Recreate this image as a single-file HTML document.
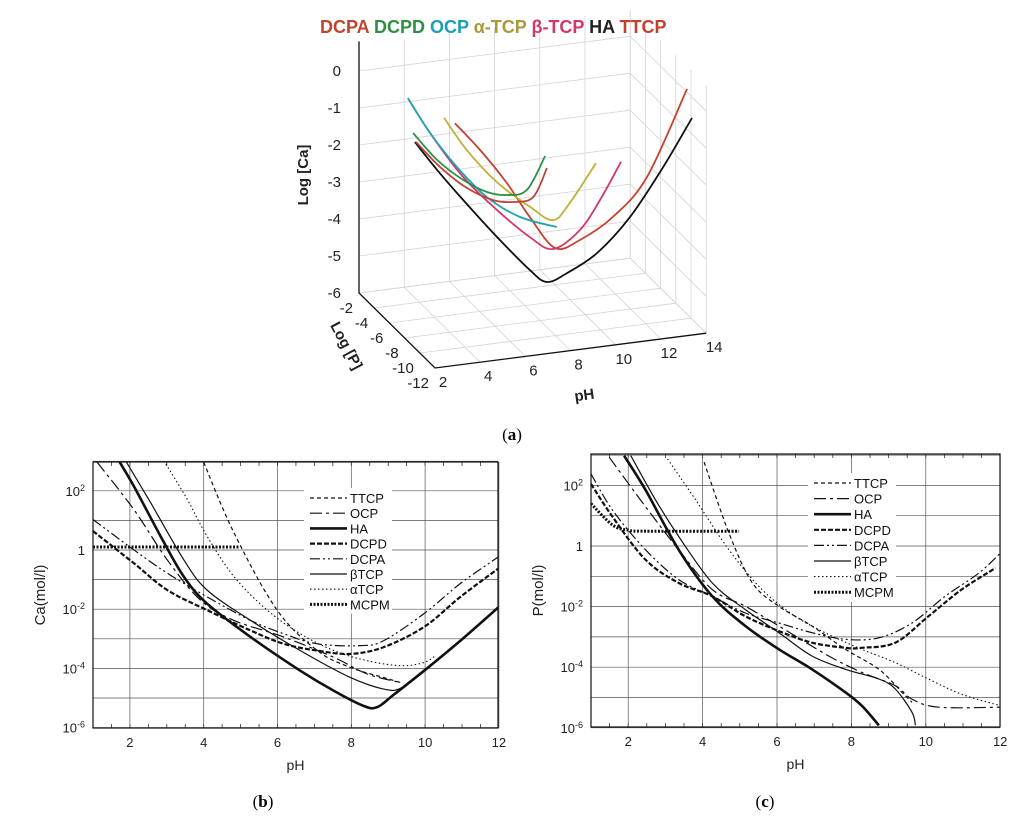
<!DOCTYPE html>
<html><head><meta charset="utf-8"><style>
html,body{margin:0;padding:0;background:#fff;}
svg{display:block;font-family:"Liberation Sans",sans-serif;}
</style></head><body>
<svg id="fig" width="1024" height="817" viewBox="0 0 1024 817" xmlns="http://www.w3.org/2000/svg">
<defs>
<clipPath id="clipB"><rect x="93" y="462" width="405" height="266"/></clipPath>
<clipPath id="clipC"><rect x="591" y="454" width="409" height="273"/></clipPath>
</defs>
<g id="panelA"></g>
<g id="panelB"></g>
<g id="panelC"></g>
<text x="512" y="440" text-anchor="middle" font-family="Liberation Serif" font-size="17">(<tspan font-weight="bold">a</tspan>)</text>
<text x="263" y="807" text-anchor="middle" font-family="Liberation Serif" font-size="17">(<tspan font-weight="bold">b</tspan>)</text>
<text x="765" y="807" text-anchor="middle" font-family="Liberation Serif" font-size="17">(<tspan font-weight="bold">c</tspan>)</text>
</svg>
<script>
// ---------- Panel A data (pH, log[Ca]) at fixed log[P] ----------
const a3Names = ["HA","TTCP","β-TCP","α-TCP","OCP","DCPD","DCPA"];
const a3Colors = ["#111111","#c8402e","#d2386a","#c0b03a","#1ea3b3","#2f8f45","#b8463e"];
const a3LogP = [-9,-9,-9,-9,-9,-9,-9];
const a3PH_HA = [2.12,3.10,4.25,5.75,7.21,7.96,8.85,10.18,11.64,13.10,14.38];
const a3Ca_HA = [-0.51,-1.34,-2.24,-3.36,-4.37,-4.75,-4.58,-4.14,-3.28,-2.05,-0.82];
const a3PH_TTCP = [3.89,5.00,6.19,7.21,8.32,9.42,10.88,12.39,14.16];
const a3Ca_TTCP = [-0.14,-0.95,-1.94,-2.94,-3.86,-3.73,-3.22,-2.26,-0.02];
const a3PH_bTCP = [1.81,2.79,4.25,5.75,7.21,8.23,9.42,10.31,11.24];
const a3Ca_bTCP = [0.70,-0.32,-1.62,-2.63,-3.48,-3.88,-3.46,-2.72,-1.76];
const a3PH_aTCP = [3.41,4.42,5.75,7.21,8.23,8.98,10.13];
const a3Ca_aTCP = [0.04,-0.91,-1.88,-2.66,-3.10,-2.69,-1.71];
const a3PH_OCP = [1.81,2.79,3.98,5.31,6.77,8.40];
const a3Ca_OCP = [0.70,-0.32,-1.33,-2.25,-2.90,-3.30];
const a3PH_DCPD = [2.04,3.10,4.25,5.31,6.19,7.08,7.88];
const a3Ca_DCPD = [-0.26,-1.07,-1.70,-2.11,-2.26,-2.19,-1.34];
const a3PH_DCPA = [2.17,3.23,4.42,5.58,6.46,7.35,7.96];
const a3Ca_DCPA = [-0.51,-1.27,-1.93,-2.35,-2.47,-2.41,-1.67];
const a3PHTicks = [2,4,6,8,10,12,14];
const a3CaTicks = [0,-1,-2,-3,-4,-5,-6];
const a3PTicks = [-2,-4,-6,-8,-10,-12];

// ---------- Panel B data (pH, log10 Ca) ----------
const bNames = ["TTCP","OCP","HA","DCPD","DCPA","βTCP","αTCP","MCPM"];
const bPH_TTCP=[4.0,4.82,5.99,7.08,7.98,8.88,9.34];
const bC_TTCP=[2.97,0.58,-2.03,-3.40,-3.97,-4.31,-4.48];
const bPH_OCP=[1.11,2.10,3.01,3.91,4.82,6.17,7.53,8.43,9.34];
const bC_OCP=[2.97,1.38,-0.33,-1.69,-2.38,-2.94,-3.63,-4.19,-4.48];
const bPH_HA=[1.70,2.10,2.83,3.46,4.09,5.27,6.62,7.53,8.34,8.70,9.16,9.97,10.96,12.0];
const bC_HA=[3.02,2.17,0.47,-0.90,-1.81,-2.94,-4.08,-4.76,-5.27,-5.31,-4.88,-4.08,-3.06,-1.92];
const bPH_DCPD=[1.0,2.10,3.01,4.09,5.27,6.17,7.08,7.98,8.88,9.97,10.96,12.0];
const bC_DCPD=[0.64,-0.44,-1.35,-2.03,-2.72,-3.17,-3.40,-3.51,-3.28,-2.60,-1.58,-0.61];
const bPH_DCPA=[1.0,2.10,3.01,4.09,5.27,6.17,7.08,8.25,8.88,9.97,10.96,12.0];
const bC_DCPA=[1.03,0.01,-0.78,-1.58,-2.38,-2.83,-3.17,-3.23,-3.06,-2.15,-1.13,-0.22];
const bPH_bTCP=[1.88,2.56,3.46,4.09,5.27,6.62,7.98,8.88,9.34,9.97];
const bC_bTCP=[3.02,1.60,-0.33,-1.35,-2.38,-3.40,-4.31,-4.70,-4.67,-4.08];
const bPH_aTCP=[2.92,3.55,4.09,4.82,5.72,6.62,7.53,8.43,9.34,9.97,10.3];
const bC_aTCP=[3.02,1.72,0.47,-0.90,-2.03,-2.83,-3.40,-3.74,-3.91,-3.80,-3.55];
const bPH_MCPM=[1.0,4.98];
const bC_MCPM=[0.1,0.1];

// ---------- Panel C data (pH, log10 P) ----------
const cPH_TTCP=[4.04,4.71,5.34,6.05,6.94,7.84,8.74,9.36,9.63];
const cC_TTCP=[2.77,0.42,-1.22,-1.99,-2.64,-3.41,-4.07,-4.83,-5.16];
const cPH_OCP=[1.49,2.47,3.36,4.26,5.15,6.05,7.39,8.28,9.18,9.62,10.34,12.0];
const cC_OCP=[2.93,1.29,-0.13,-1.44,-1.99,-2.64,-3.63,-4.17,-4.61,-5.05,-5.32,-5.32];
const cPH_HA=[1.89,2.47,3.36,4.26,5.15,6.05,6.94,7.84,8.28,8.74];
const cC_HA=[2.98,1.84,-0.13,-1.66,-2.64,-3.41,-4.07,-4.83,-5.27,-5.92];
const cPH_DCPD=[1.0,1.58,2.47,3.36,4.26,5.15,6.05,6.94,7.84,8.28,9.18,10.07,10.96,11.87];
const cC_DCPD=[2.05,0.96,-0.46,-1.22,-1.66,-2.32,-2.81,-3.19,-3.36,-3.36,-3.19,-2.32,-1.44,-0.73];
const cPH_DCPA=[1.0,1.58,2.47,3.36,4.26,5.15,6.05,6.94,7.84,8.74,9.63,10.52,11.42,12.0];
const cC_DCPA=[2.38,1.18,-0.13,-1.11,-1.66,-2.21,-2.54,-2.86,-3.08,-3.03,-2.54,-1.66,-0.90,-0.24];
const cPH_bTCP=[2.07,2.74,3.36,4.26,5.15,6.05,6.94,7.84,8.74,9.18,9.63,9.72];
const cC_bTCP=[2.98,1.51,0.31,-1.22,-2.10,-2.86,-3.63,-4.07,-4.39,-4.72,-5.49,-5.92];
const cPH_aTCP=[3.06,3.82,4.71,5.60,6.49,7.39,8.28,9.18,10.07,10.96,12.0];
const cC_aTCP=[2.87,1.51,-0.13,-1.44,-2.32,-2.92,-3.41,-3.85,-4.39,-4.89,-5.27];
const cPH_MCPM=[1.0,1.58,2.02,2.47,4.98];
const cC_MCPM=[1.40,0.69,0.52,0.49,0.49];

const yTickExp=[2,0,-2,-4,-6];
const xTickPH=[2,4,6,8,10,12];

const NS="http://www.w3.org/2000/svg";
function mk(tag,attrs,parent){const e=document.createElementNS(NS,tag);for(const k in attrs)e.setAttribute(k,attrs[k]);parent.appendChild(e);return e;}
function smooth(pts){
  if(pts.length<3){return "M"+pts.map(p=>p[0].toFixed(1)+","+p[1].toFixed(1)).join(" L");}
  let d="M"+pts[0][0].toFixed(1)+","+pts[0][1].toFixed(1);
  for(let i=0;i<pts.length-1;i++){
    const p0=pts[i-1]||pts[i],p1=pts[i],p2=pts[i+1],p3=pts[i+2]||p2;
    const c1=[p1[0]+(p2[0]-p0[0])/6,p1[1]+(p2[1]-p0[1])/6];
    const c2=[p2[0]-(p3[0]-p1[0])/6,p2[1]-(p3[1]-p1[1])/6];
    d+=" C"+c1[0].toFixed(1)+","+c1[1].toFixed(1)+" "+c2[0].toFixed(1)+","+c2[1].toFixed(1)+" "+p2[0].toFixed(1)+","+p2[1].toFixed(1);
  }
  return d;
}

// ---------- Panel A ----------
(function(){
  const g=document.getElementById("panelA");
  function P(pH,logP,ca){return [359+(pH-2)*22.6+(-2-logP)*7.6, 293-(ca+6)*37-(pH-2)*2.9+(-2-logP)*7.5];}
  const gs={stroke:"#d4d4d4","stroke-width":0.8,fill:"none"};
  for(const ph of a3PHTicks){const a=P(ph,-2,-6),b=P(ph,-2,0.7);
    const l=mk("line",Object.assign({x1:a[0],y1:a[1],x2:b[0],y2:b[1]},gs),g);
    
    }
  for(const ca of a3CaTicks){const a=P(2,-2,ca),b=P(14,-2,ca),c=P(14,-12,ca);
    const l=mk("polyline",Object.assign({points:a.join(",")+" "+b.join(",")+" "+c.join(",")},gs),g);
    
    }
  for(const lp of a3PTicks){const a=P(14,lp,-6),b=P(14,lp,0.7);
    const l=mk("line",Object.assign({x1:a[0],y1:a[1],x2:b[0],y2:b[1]},gs),g);
    
    }
  for(const lp of a3PTicks){const a=P(2,lp,-6),b=P(14,lp,-6);
    const l=mk("line",Object.assign({x1:a[0],y1:a[1],x2:b[0],y2:b[1]},gs),g);
    
    }
  for(const ph of a3PHTicks){const a=P(ph,-2,-6),b=P(ph,-12,-6);
    const l=mk("line",Object.assign({x1:a[0],y1:a[1],x2:b[0],y2:b[1]},gs),g);
    
    }
  const o=P(2,-2,-6),top=P(2,-2,0.8),f=P(2,-12,-6),e=P(14,-12,-6);
  const ax=mk("polyline",{points:top.join(",")+" "+o.join(",")+" "+f.join(",")+" "+e.join(","),stroke:"#111","stroke-width":1.3,fill:"none"},g);
  
  
  a3CaTicks.forEach(ca=>{const p=P(2,-2,ca);const t=mk("text",{x:p[0]-18,y:p[1]+5,"text-anchor":"end","font-size":15,fill:"#222"},g);t.textContent=ca;
    
    });
  a3PTicks.forEach(lp=>{const p=P(2,lp,-6);const t=mk("text",{x:p[0]-6,y:p[1]+20,"text-anchor":"end","font-size":15,fill:"#222"},g);t.textContent=lp;
    
    });
  a3PHTicks.forEach(ph=>{const p=P(ph,-12,-6);const t=mk("text",{x:p[0]+8,y:p[1]+19,"text-anchor":"middle","font-size":15,fill:"#222"},g);t.textContent=ph;
    
    });
  let t=mk("text",{x:0,y:0,"font-size":15,"font-weight":"bold",fill:"#222","text-anchor":"middle",transform:"translate(308,175) rotate(-90)"},g);t.textContent="Log [Ca]";
  
  
  t=mk("text",{x:0,y:0,"font-size":15,"font-weight":"bold",fill:"#222","text-anchor":"middle",transform:"translate(342,348) rotate(62)"},g);t.textContent="Log [P]";
  
  
  t=mk("text",{x:0,y:0,"font-size":15,"font-weight":"bold",fill:"#222","text-anchor":"middle",transform:"translate(585,400) rotate(-8)"},g);t.textContent="pH";
  
  
  const sets=[[a3PH_HA,a3Ca_HA],[a3PH_TTCP,a3Ca_TTCP],[a3PH_bTCP,a3Ca_bTCP],[a3PH_aTCP,a3Ca_aTCP],[a3PH_OCP,a3Ca_OCP],[a3PH_DCPD,a3Ca_DCPD],[a3PH_DCPA,a3Ca_DCPA]];
  sets.forEach((s,i)=>{const pts=s[0].map((ph,j)=>P(ph,a3LogP[i],s[1][j]));
    const c=mk("path",{d:smooth(pts),stroke:a3Colors[i],"stroke-width":1.8,fill:"none"},g);
    
    });
  const leg=mk("text",{x:320,y:33,"font-size":18,"font-weight":"bold"},g);
  
  
  const legItems=[["DCPA","#c0432f"],["DCPD","#2f8f45"],["OCP","#1a9fb0"],["α-TCP","#a89a3a"],["β-TCP","#d2386a"],["HA","#222"],["TTCP","#c0432f"]];
  legItems.forEach((it,i)=>{const s=mk("tspan",{fill:it[1]},leg);s.textContent=(i?" ":"")+it[0];});
})();

// ---------- 2D log panels ----------
function logPanel(gid,clip,X0,Y0,pxPH,pxDec,left,right,top,bottom,ylab,series,legX,legY0,legStep,prefix){
  const g=document.getElementById(gid);
  const xs=ph=>X0+(ph-1)*pxPH, ys=v=>Y0-v*pxDec;
  for(let e=-6;e<=3;e++){const y=ys(e);
    const l=mk("line",{x1:left,x2:right,y1:y,y2:y,stroke:"#555","stroke-width":0.7},g);
    
    }
  xTickPH.forEach(ph=>{const x=xs(ph);
    const l=mk("line",{x1:x,x2:x,y1:top,y2:bottom,stroke:"#555","stroke-width":0.7},g);
    
    });
  for(let ph=1.5;ph<12;ph+=0.5){const x=xs(ph);
    mk("line",{x1:x,x2:x,y1:bottom,y2:bottom-4,stroke:"#333","stroke-width":0.8},g);
    mk("line",{x1:x,x2:x,y1:top,y2:top+4,stroke:"#333","stroke-width":0.8},g);}
  const lb=mk("rect",{x:legX-6,y:legY0-10,width:88,height:legStep*8+4,fill:"#fff"},g);
  
  
  const cg=mk("g",{"clip-path":"url(#"+clip+")"},g);
  series.forEach(s=>{const pts=s.ph.map((ph,i)=>[xs(ph),ys(s.v[i])]);
    const attrs={d:smooth(pts),stroke:"#111","stroke-width":s.w,fill:"none"};
    if(s.dash)attrs["stroke-dasharray"]=s.dash;
    const p=mk("path",attrs,cg);
    
    });
  const fr=mk("rect",{x:left,y:top,width:right-left,height:bottom-top,fill:"none",stroke:"#111","stroke-width":1.2},g);
  
  
  series.forEach((s,i)=>{const y=legY0+i*legStep;
    const attrs={x1:legX,x2:legX+37,y1:y,y2:y,stroke:"#111","stroke-width":s.w};
    if(s.dash)attrs["stroke-dasharray"]=s.dash;
    const l=mk("line",attrs,g);
    
    
    const t=mk("text",{x:legX+40,y:y+5,"font-size":13,fill:"#111"},g);t.textContent=s.name;
    
    });
  xTickPH.forEach(ph=>{const t=mk("text",{x:xs(ph),y:bottom+19,"text-anchor":"middle","font-size":13,fill:"#222"},g);t.textContent=ph;
    
    });
  yTickExp.forEach(e=>{const t=mk("text",{x:left-8,y:ys(e)+5,"text-anchor":"end","font-size":13,fill:"#222"},g);
    if(e===0){t.textContent="1";}else{t.textContent="10";const s=mk("tspan",{dy:-5,"font-size":9},t);s.textContent=String(e);}
    
    });
  let t=mk("text",{x:(left+right)/2,y:bottom+42,"text-anchor":"middle","font-size":14,fill:"#222"},g);t.textContent="pH";
  
  
  t=mk("text",{x:0,y:0,"text-anchor":"middle","font-size":15,fill:"#222",transform:"translate("+(left-48)+","+((top+bottom)/2)+") rotate(-90)"},g);t.textContent=ylab;
  
  
}
const styles={TTCP:{w:1.2,dash:"4,3"},OCP:{w:1.2,dash:"12,4,3,4"},HA:{w:2.6},DCPD:{w:2.2,dash:"5,2"},DCPA:{w:1.2,dash:"10,3,2,3,2,3"},βTCP:{w:1.2},αTCP:{w:1.1,dash:"1.5,2.5"},MCPM:{w:3,dash:"2,1.5"}};
const bSets=[[bPH_TTCP,bC_TTCP],[bPH_OCP,bC_OCP],[bPH_HA,bC_HA],[bPH_DCPD,bC_DCPD],[bPH_DCPA,bC_DCPA],[bPH_bTCP,bC_bTCP],[bPH_aTCP,bC_aTCP],[bPH_MCPM,bC_MCPM]];
const cSets=[[cPH_TTCP,cC_TTCP],[cPH_OCP,cC_OCP],[cPH_HA,cC_HA],[cPH_DCPD,cC_DCPD],[cPH_DCPA,cC_DCPA],[cPH_bTCP,cC_bTCP],[cPH_aTCP,cC_aTCP],[cPH_MCPM,cC_MCPM]];
const bSeries=bNames.map((n,i)=>Object.assign({name:n,ph:bSets[i][0],v:bSets[i][1]},styles[n]));
const cSeries=bNames.map((n,i)=>Object.assign({name:n,ph:cSets[i][0],v:cSets[i][1]},styles[n]));
logPanel("panelB","clipB",93,550,36.9,29.6,93,498,462,728,"Ca(mol/l)",bSeries,310,498,15.2,"b");
logPanel("panelC","clipC",591,546,37.2,30.3,591,1000,454,727,"P(mol/l)",cSeries,814,483,15.6,"c");
</script>
</body></html>
